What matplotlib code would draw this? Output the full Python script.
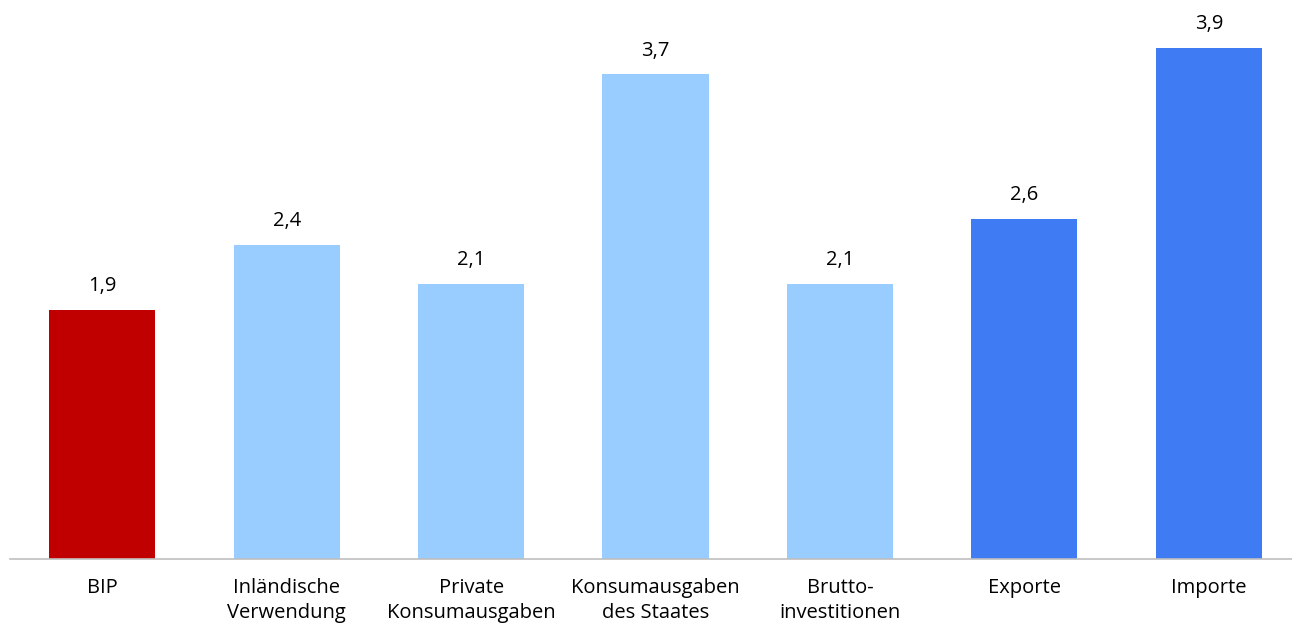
import matplotlib.pyplot as plt

plt.rcParams['font.family'] = ['Open Sans', 'DejaVu Sans']

categories = ["BIP", "Inländische\nVerwendung", "Private\nKonsumausgaben",
              "Konsumausgaben\ndes Staates", "Brutto-\ninvestitionen",
              "Exporte", "Importe"]
values = [1.9, 2.4, 2.1, 3.7, 2.1, 2.6, 3.9]
colors = ["#C00000", "#99CCFF", "#99CCFF", "#99CCFF", "#99CCFF",
          "#3F7CF4", "#3F7CF4"]

fig = plt.figure(figsize=(12.92, 6.23), dpi=100)
ax = fig.add_axes([10 / 1292, 64 / 623, 1291 / 1292, 550 / 623])

x = range(len(values))
ax.bar(x, values, width=0.575, color=colors)

for xi, v in zip(x, values):
    ax.annotate(f"{v:.1f}".replace(".", ","), (xi, v), xytext=(0, 10),
                textcoords="offset points", ha="center", va="bottom",
                fontsize=14.5)

ax.set_xlim(-0.5, 6.5)
ax.set_ylim(0, 4.2)
ax.set_xticks(list(x))
ax.set_xticklabels(categories, fontsize=14.5, linespacing=1.3)
ax.tick_params(axis="x", length=0, pad=14)
ax.set_yticks([])

for side in ["top", "right", "left"]:
    ax.spines[side].set_visible(False)
ax.spines["bottom"].set_color("#BFBFBF")
ax.spines["bottom"].set_linewidth(1.2)

fig.savefig("out.png", dpi=100)
